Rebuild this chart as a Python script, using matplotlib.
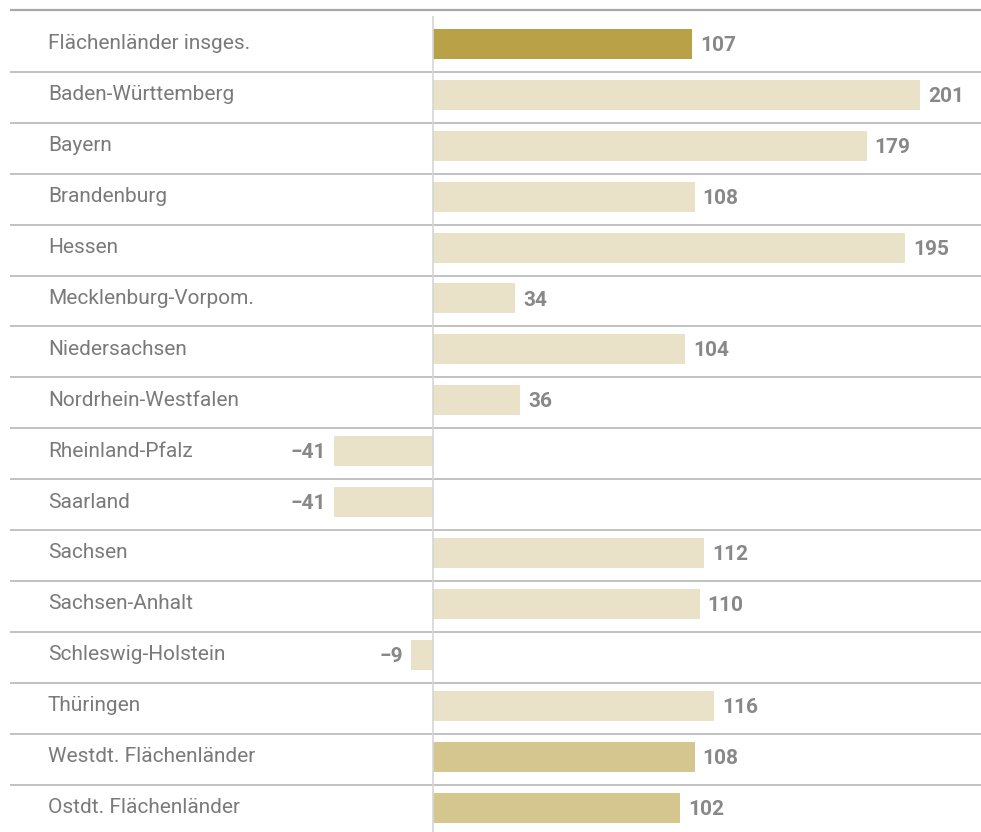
import matplotlib.pyplot as plt
from matplotlib import font_manager

# data
labels = ['Flächenländer insges.', 'Baden-Württemberg', 'Bayern', 'Brandenburg',
          'Hessen', 'Mecklenburg-Vorpom.', 'Niedersachsen', 'Nordrhein-Westfalen',
          'Rheinland-Pfalz', 'Saarland', 'Sachsen', 'Sachsen-Anhalt',
          'Schleswig-Holstein', 'Thüringen', 'Westdt. Flächenländer',
          'Ostdt. Flächenländer']
values = [107, 201, 179, 108, 195, 34, 104, 36, -41, -41, 112, 110, -9, 116, 108, 102]
groups = ['total', 'land', 'land', 'land', 'land', 'land', 'land', 'land', 'land',
          'land', 'land', 'land', 'land', 'land', 'region', 'region']

COLORS = {'total': '#b9a147', 'land': '#e9e2c9', 'region': '#d5c68f'}

names = {f.name for f in font_manager.fontManager.ttflist}
FONT = ['Liberation Sans Narrow'] if 'Liberation Sans Narrow' in names else ['Roboto']
plt.rcParams['font.family'] = FONT + ['DejaVu Sans']

W, H = 981, 832
fig = plt.figure(figsize=(W / 100, H / 100), dpi=100)
ax = fig.add_axes([0, 0, 1, 1])

PX_X = 2.423      # pixels per unit
X0 = 433          # zero line, pixels
PX_Y = 50.9       # row pitch, pixels
Y0 = 44           # centre of first row, pixels

ax.set_xlim(-X0 / PX_X, (W - X0) / PX_X)
ax.set_ylim((H - Y0) / PX_Y, -Y0 / PX_Y)
ax.axis('off')

n = len(labels)
rows = list(range(n))
ax.barh(rows, values, height=30 / PX_Y, color=[COLORS[g] for g in groups], zorder=2)

# separators
xl = (10 - X0) / PX_X
ax.hlines([(10 - Y0) / PX_Y], xl, ax.get_xlim()[1], color='#a8a8a8', lw=1.6, zorder=1)
ax.hlines([r + 0.55 for r in rows[:-1]], xl, ax.get_xlim()[1], color='#b8b8b8',
          lw=1.2, zorder=1)
ax.vlines(0, (16 - Y0) / PX_Y, ax.get_ylim()[0], color='#d6d6d6', lw=1.2, zorder=3)

for r, (lab, v) in enumerate(zip(labels, values)):
    ax.text(48 / PX_X - X0 / PX_X, r, lab, ha='left', va='center', fontsize=15,
            color='#7a7a7a')
    txt = str(v).replace('-', '\u2212')
    if v >= 0:
        ax.text(v + 8 / PX_X, r + 0.03, txt, ha='left', va='center', fontsize=15,
                fontweight='bold', color='#888888')
    else:
        ax.text(v - 8 / PX_X, r + 0.03, txt, ha='right', va='center', fontsize=15,
                fontweight='bold', color='#888888')

fig.savefig('out.png', dpi=100)
